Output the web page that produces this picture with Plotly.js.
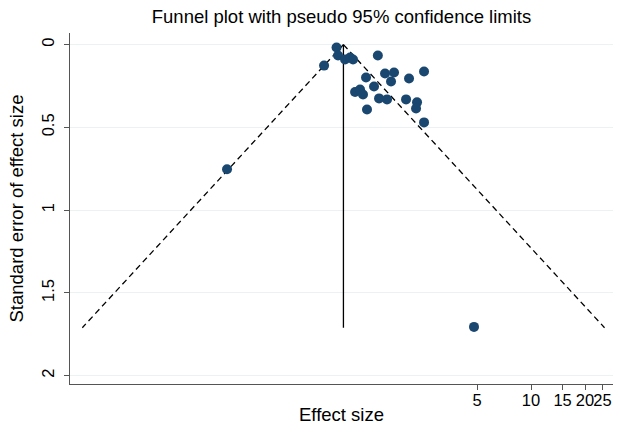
<!DOCTYPE html>
<html>
<head>
<meta charset="utf-8">
<script src="https://cdn.plot.ly/plotly-3.0.1.min.js"></script>
<style>html,body{margin:0;padding:0;background:#fff;}#chart{width:620px;height:435px;}</style>
</head>
<body>
<div id="chart"></div>
<script>
// Study effect sizes (log-scaled axis) and their standard errors
const effectSize = [0.824, 0.840, 0.702, 0.919, 0.980, 1.018, 1.40, 1.203, 1.535, 1.723, 1.658, 2.089, 2.533,
  1.333, 1.045, 1.114, 1.157, 1.422, 1.575, 2.011, 2.315, 2.286, 2.533, 1.218, 0.202, 4.81];
const stdError = [0.018, 0.066, 0.127, 0.090, 0.078, 0.090, 0.066, 0.199, 0.175, 0.169, 0.223, 0.205, 0.163,
  0.253, 0.286, 0.271, 0.301, 0.325, 0.331, 0.331, 0.349, 0.386, 0.470, 0.392, 0.753, 1.705];
// Pooled estimate and pseudo 95% limits
const pooled = 0.90;
const zCrit = 1.96;
const seLimits = [0, 1.71];
const xTickVals = [5, 10, 15, 20, 25];
const xTickText = ["5", "10", "15", "20", "25"];
const yTickVals = [0, 0.5, 1, 1.5, 2];
const yTickText = ["0", "0.5", "1", "1.5", "2"];

const lowerX = seLimits.map(s => pooled * Math.exp(-zCrit * s));
const upperX = seLimits.map(s => pooled * Math.exp(zCrit * s));

const traces = [
  {x: lowerX, y: seLimits, mode: 'lines', line: {color: '#000', width: 1.3, dash: '6px,4px'}, hoverinfo: 'skip'},
  {x: upperX, y: seLimits, mode: 'lines', line: {color: '#000', width: 1.3, dash: '6px,4px'}, hoverinfo: 'skip'},
  {x: [pooled, pooled], y: seLimits, mode: 'lines', line: {color: '#000', width: 1.3}, hoverinfo: 'skip'},
  {x: effectSize, y: stdError, mode: 'markers', marker: {color: '#1a476f', size: 10}}
];

const font = "'Liberation Sans', Arial, Helvetica, sans-serif";
const layout = {
  width: 620, height: 435,
  margin: {l: 70, r: 7, t: 33, b: 51},
  paper_bgcolor: '#fff', plot_bgcolor: '#fff',
  showlegend: false,
  font: {family: font, color: '#000', size: 16},
  title: {text: 'Funnel plot with pseudo 95% confidence limits', font: {family: font, size: 18.5, color: '#000'},
          x: 0.5, xref: 'paper', y: 0.962, yref: 'container', xanchor: 'center', yanchor: 'middle'},
  xaxis: {
    type: 'log', range: [-1.570, 1.457], automargin: false,
    tickvals: xTickVals, ticktext: xTickText, tickangle: 0,
    ticks: 'outside', ticklen: 5, tickcolor: '#555', tickwidth: 1,
    ticklabelstandoff: -4,
    showline: true, linecolor: '#555', linewidth: 1,
    showgrid: false, zeroline: false,
    tickfont: {family: font, size: 16.5, color: '#000'},
    title: {text: 'Effect size', font: {family: font, size: 18.5, color: '#000'}, standoff: 0}
  },
  yaxis: {
    range: [2.05, -0.07], automargin: false,
    tickvals: yTickVals, ticktext: yTickText, tickangle: -90,
    ticks: 'outside', ticklen: 5, tickcolor: '#555', tickwidth: 1,
    ticklabelstandoff: 3,
    showline: true, linecolor: '#555', linewidth: 1,
    showgrid: true, gridcolor: '#eaf2f3', gridwidth: 1, zeroline: false,
    tickfont: {family: font, size: 16.5, color: '#000'},
    title: {text: 'Standard error of effect size', font: {family: font, size: 18.5, color: '#000'}, standoff: 10}
  }
};

Plotly.newPlot('chart', traces, layout, {displayModeBar: false, staticPlot: true});
</script>
</body>
</html>
